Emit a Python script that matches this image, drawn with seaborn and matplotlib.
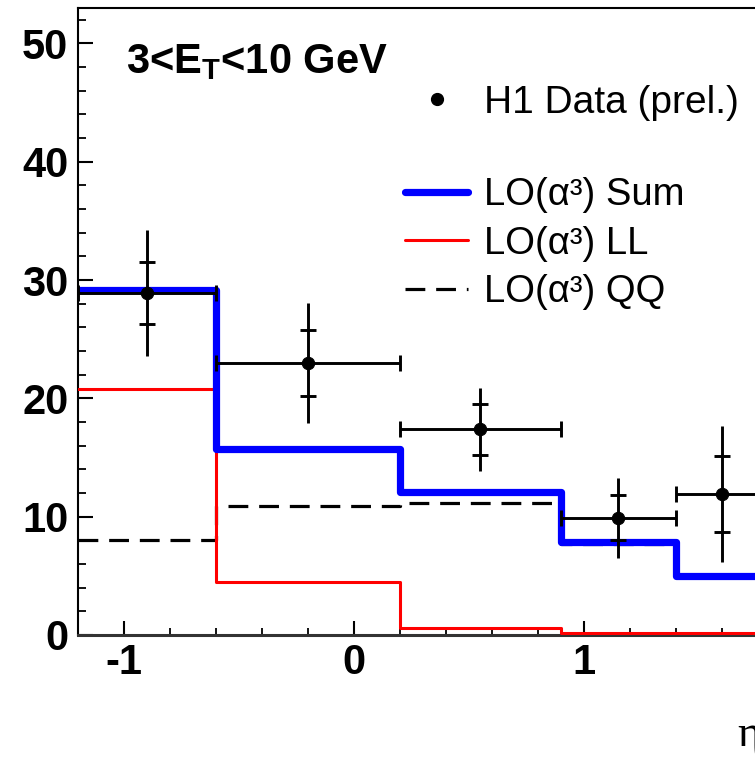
import numpy as np
import pandas as pd
import matplotlib
matplotlib.use("Agg")
import matplotlib.pyplot as plt
import seaborn as sns
from matplotlib.lines import Line2D

# ---- data ----
bin_edges = [-1.2, -0.6, 0.2, 0.9, 1.4, 1.8]
bin_centers = [-0.9, -0.2, 0.55, 1.15, 1.6]
data_vals = [28.9, 23.0, 17.4, 9.9, 11.9]
data_stat = [2.6, 2.8, 2.15, 1.9, 3.2]
data_tot = [5.3, 5.1, 3.5, 3.4, 5.75]
sum_vals = [29.2, 15.7, 12.1, 7.9, 5.0]
ll_vals = [20.8, 4.5, 0.6, 0.15, 0.15]
qq_vals = [8.0, 10.9, 11.2, 7.7, 4.9]
title_text = "3<E$_{\\mathbf{T}}$<10 GeV"
legend_labels = ["H1 Data (prel.)", "LO(α³) Sum", "LO(α³) LL", "LO(α³) QQ"]
y_ticks = [0, 10, 20, 30, 40, 50]
x_ticks = [-1, 0, 1]

sns.set_style("white")
plt.rcParams['font.family'] = ['Liberation Sans', 'DejaVu Sans']
plt.rcParams['mathtext.fontset'] = 'custom'
plt.rcParams['mathtext.rm'] = 'Liberation Sans'
plt.rcParams['mathtext.bf'] = 'Liberation Sans:bold'
for k in ['text.color', 'axes.labelcolor', 'xtick.color', 'ytick.color', 'axes.edgecolor']:
    plt.rcParams[k] = 'black'

W, H = 755, 763
fig = plt.figure(figsize=(W / 100, H / 100), dpi=100)
left = 78 / W
bottom = 1 - 635 / H
top = 1 - 8 / H
xmin, xmax = -1.2, 2.0
px_per_unit = 230.0
width = (xmax - xmin) * px_per_unit / W
ax = fig.add_axes([left, bottom, width, top - bottom])

edges = np.array(bin_edges)
centers = np.array(bin_centers)
df = pd.DataFrame({"eta": bin_centers, "sum": sum_vals, "ll": ll_vals, "qq": qq_vals})

dash = (0, (6.2, 3.4))
sns.histplot(data=df, x="eta", weights="qq", bins=list(bin_edges), element="step", fill=False,
             color="black", linewidth=2.3, linestyle=dash, ax=ax, zorder=3)
sns.histplot(data=df, x="eta", weights="ll", bins=list(bin_edges), element="step", fill=False,
             color="#ff0000", linewidth=2.2, ax=ax, zorder=3)
sns.histplot(data=df, x="eta", weights="sum", bins=list(bin_edges), element="step", fill=False,
             color="#0000ff", linewidth=5.2, ax=ax, zorder=3)

xlo = centers - edges[:-1]
xhi = edges[1:] - centers
ax.errorbar(centers, data_vals, xerr=[xlo, xhi], fmt="none", ecolor="black",
            elinewidth=2.1, capsize=5.5, capthick=2.1, zorder=5)
ax.errorbar(centers, data_vals, yerr=data_tot, fmt="none", ecolor="black",
            elinewidth=2.1, capsize=0, zorder=5)
ax.errorbar(centers, data_vals, yerr=data_stat, fmt="none", ecolor="black",
            elinewidth=0, capsize=5.5, capthick=2.1, zorder=5)
sns.scatterplot(x=centers, y=data_vals, color="black", s=80, edgecolor="black",
                zorder=6, ax=ax, legend=False)

ax.set_xlim(xmin, xmax)
ax.set_ylim(0, 53.0)
ax.set_xlabel("")
ax.set_ylabel("")

ax.set_yticks(y_ticks)
ax.set_yticks(np.arange(0, 53, 2), minor=True)
ax.set_xticks(x_ticks)
ax.set_xticks(np.arange(-1.2, 2.01, 0.2), minor=True)
ax.set_yticklabels([str(v) for v in y_ticks], fontsize=30, fontweight="bold")
ax.set_xticklabels([str(v) for v in x_ticks], fontsize=30, fontweight="bold")
ax.tick_params(axis="y", which="major", direction="in", length=11, width=1.5, pad=7, left=True)
ax.tick_params(axis="y", which="minor", direction="in", length=6, width=1.3, left=True)
ax.tick_params(axis="x", which="major", direction="in", length=10, width=1.5, pad=6, bottom=True)
ax.tick_params(axis="x", which="minor", direction="in", length=5, width=1.3, bottom=True)
for s in ["left", "top", "right"]:
    ax.spines[s].set_linewidth(1.5)
    ax.spines[s].set_color("black")
ax.spines["bottom"].set_linewidth(2.2)
ax.spines["bottom"].set_color("#333333")

fig.text(126 / W, 1 - 62 / H, title_text, fontsize=30, fontweight="bold",
         ha="left", va="center")

fs = 28
h_data = Line2D([], [], marker="o", color="black", linestyle="none", markersize=8.5)
leg1 = fig.legend([h_data], [legend_labels[0]], loc="center left",
                  bbox_to_anchor=(403.5 / W, 1 - 103 / H), frameon=False,
                  fontsize=fs, handlelength=1.72, handletextpad=0.35, borderpad=0,
                  borderaxespad=0)
fs2 = 27.5
em2 = fs2 * 100 / 72
h_sum = Line2D([], [], color="#0000ff", linewidth=5.2)
h_ll = Line2D([], [], color="#ff0000", linewidth=2.2)
h_qq = Line2D([], [], color="black", linewidth=2.3, linestyle=dash)
leg2 = fig.legend([h_sum, h_ll, h_qq], legend_labels[1:], loc="upper left",
                  bbox_to_anchor=(405 / W, 1 - 177 / H), frameon=False,
                  fontsize=fs2, handlelength=63 / em2, handletextpad=16 / em2,
                  labelspacing=0.33, borderpad=0, borderaxespad=0)

fig.text(737 / W, 1 - 735 / H, "η", fontsize=32, family=["Liberation Serif", "DejaVu Serif"],
         ha="left", va="center")

fig.savefig("out.png", dpi=100)
